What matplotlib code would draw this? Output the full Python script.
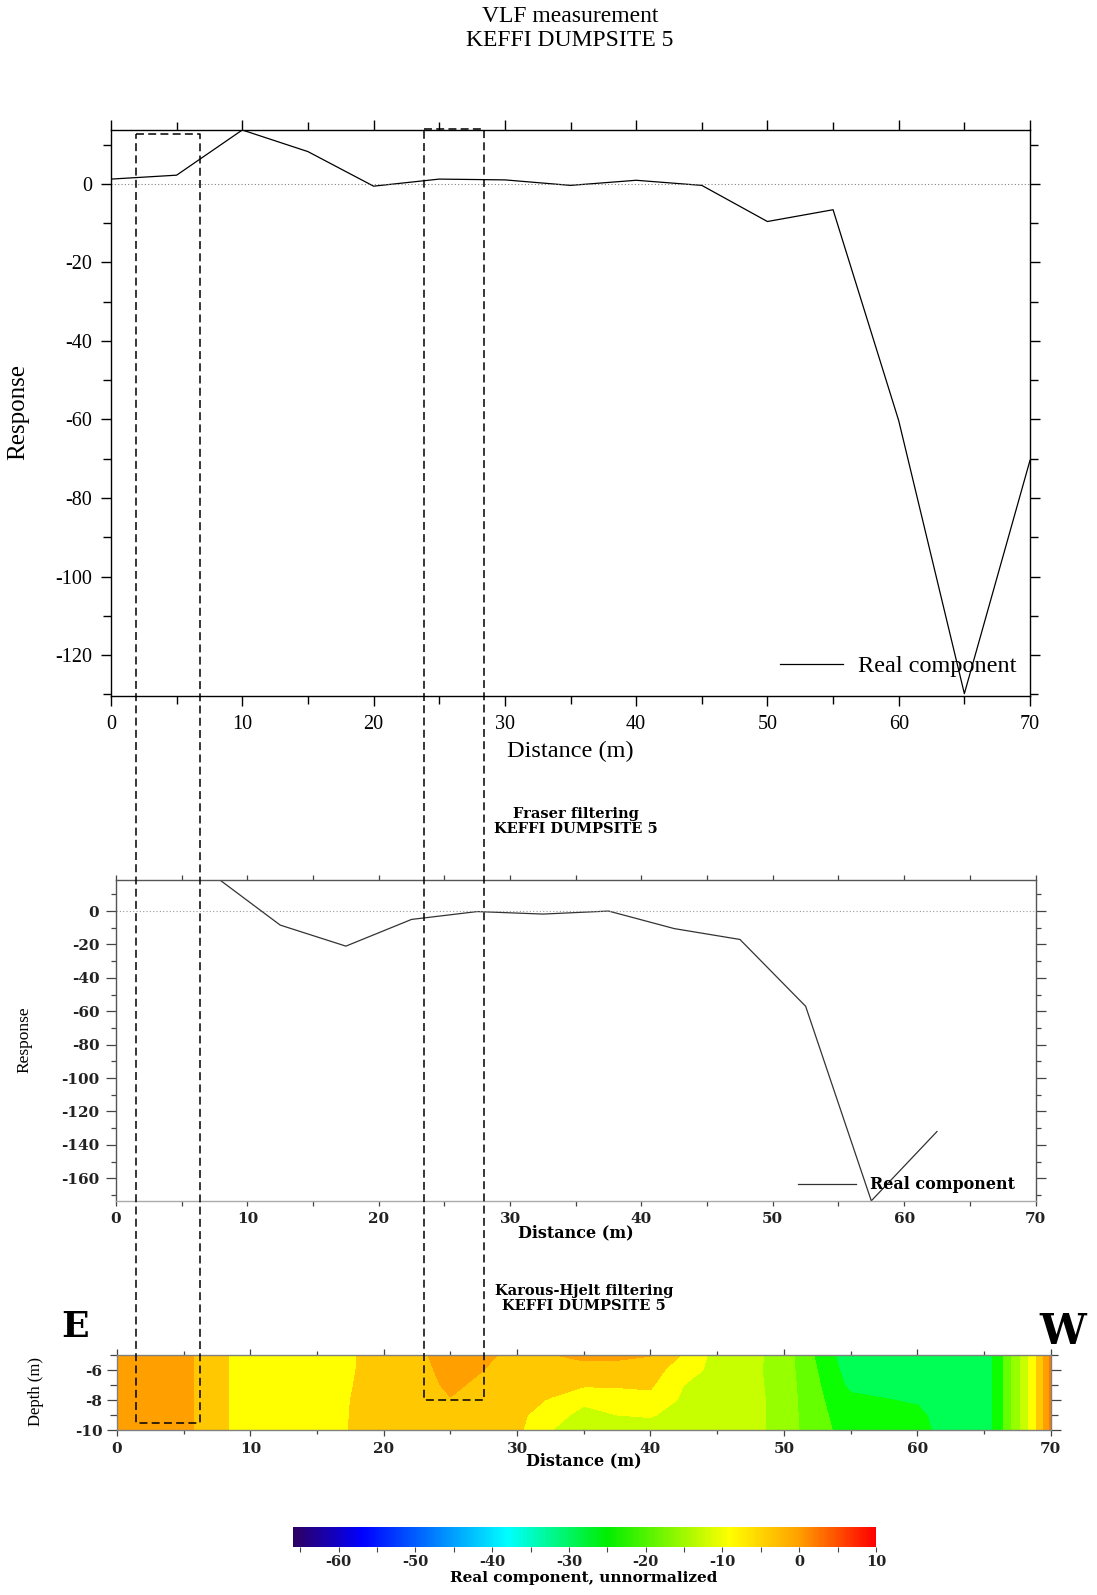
import numpy as np
import matplotlib
matplotlib.use("Agg")
import matplotlib.pyplot as plt
from matplotlib.colors import LinearSegmentedColormap, Normalize
from matplotlib.cm import ScalarMappable
from matplotlib.lines import Line2D
from matplotlib.ticker import MultipleLocator

# raw VLF real component
dist = [0, 5, 10, 15, 20, 25, 30, 35, 40, 45, 50, 55, 60, 65, 70]
real = [1.2, 2.2, 13.7, 8.2, -0.6, 1.2, 1.0, -0.4, 0.9, -0.4, -9.6, -6.6, -60.3, -129.8, -70.4]

# Fraser filtered
fraser_dist = [7.5, 12.5, 17.5, 22.5, 27.5, 32.5, 37.5, 42.5, 47.5, 52.5, 57.5, 62.5]
fraser = [21, -8.4, -21, -5, -0.3, -1.8, 0, -10.5, -17, -57, -173.5, -132]

# Karous-Hjelt pseudo section (rows = depth, columns = distance)
kh_dist = [0, 2.5, 5, 7.5, 10, 12.5, 15, 17.5, 20, 22.5, 25, 27.5, 30, 32.5, 35,
           37.5, 40, 42.5, 45, 47.5, 50, 52.5, 55, 57.5, 60, 62.5, 65, 67.5, 68.75, 70]
kh_depth = [-5, -6, -7, -8, -9, -10]
kh_real = [
    [-1.5, -1.5, -2, -5.5, -10, -10, -10, -7.5, -5, -4.0, -1.0, -1.7, -5.0, -3.2, -2.0,
     -2.0, -2.8, -7.5, -12.5, -13.0, -15.5, -20.5, -27.0, -28.0, -28.0, -27.5, -27, -15, -9, 2],
    [-1.5, -1.5, -2, -5.5, -10, -10, -10, -7.4, -5, -4.5, -1.5, -3.0, -5.0, -5.0, -4.5,
     -4.8, -5.5, -9.0, -12.5, -13.2, -15.5, -20.0, -26.0, -27.0, -27.0, -27.5, -27, -15, -9, 2],
    [-1.5, -1.5, -2, -5.5, -10, -10, -10, -7.2, -5, -4.8, -2.2, -4.0, -5.5, -6.0, -6.6,
     -6.6, -6.5, -11.0, -12.5, -13.0, -15.5, -19.5, -25.0, -25.5, -25.5, -27.5, -27, -15, -9, 2],
    [-1.5, -1.5, -2, -5.5, -10, -10, -10, -7.0, -5, -5.0, -3.2, -4.5, -6.0, -7.2, -10.0,
     -9.0, -8.0, -11.8, -12.5, -12.8, -15.5, -19.2, -23.0, -23.8, -24.5, -27.0, -27, -15, -9, 2],
    [-1.5, -1.5, -2, -5.5, -10, -10, -10, -6.9, -5, -5.0, -4.5, -5.0, -6.1, -9.0, -12.5,
     -11.0, -10.8, -12.0, -12.5, -12.8, -15.5, -19.0, -22.0, -22.5, -23.0, -26.5, -27, -15, -9, 2],
    [-1.5, -1.5, -2, -5.5, -10, -10, -10, -6.8, -5, -5.0, -5.0, -5.0, -6.2, -10.8, -14.2,
     -12.5, -12.0, -12.2, -12.5, -12.8, -15.5, -18.8, -21.5, -22.0, -22.5, -26.0, -27, -15, -9, 2],
]
kh_levels = [-30, -24, -20, -17, -14, -11, -7, -3, 1, 5]
kh_colors = ["#00ff55", "#0cff00", "#66ff00", "#96ff00", "#c8ff00",
             "#ffff00", "#ffc800", "#ffa000", "#ff7800"]

# colour scale of the section
cbar_vals = [-66, -57, -38, -25, -9, 0, 10]
cbar_cols = ["#2d0060", "#0000ff", "#00ffff", "#00ee00", "#ffff00", "#ffa000", "#ff0000"]
cbar_ticks = [-60, -50, -40, -30, -20, -10, 0, 10]

# dashed anomaly boxes: distance on top panel, top response, bottom depth
box_dist = [(1.9, 6.75), (23.85, 28.4)]
box_top = [12.6, 14.05]
box_depth = [-9.5, -8.0]

plt.rcParams['font.family'] = ['Liberation Serif', 'DejaVu Serif']
plt.rcParams['axes.unicode_minus'] = False
W, H = 1097, 1595
fig = plt.figure(figsize=(W / 100, H / 100), dpi=100)


def box(l, t, r, b):
    return [l / W, 1 - b / H, (r - l) / W, (b - t) / H]


def ftext(x, y, s, **kw):
    return fig.text(x / W, 1 - y / H, s, ha='center', va='center', **kw)


def bold_labels(ax, size=10.5):
    for lab in ax.get_xticklabels() + ax.get_yticklabels():
        lab.set_fontfamily('DejaVu Serif')
        lab.set_fontweight('bold')
        lab.set_fontsize(size)
        lab.set_color('#222222')


bold = dict(family=['DejaVu Serif'], weight='bold')

# ---- top panel: raw data
ax1 = fig.add_axes(box(111, 130, 1030, 696))
ax1.plot(dist, real, color='black', lw=0.9, label='Real component')
ax1.axhline(0, color='gray', ls=(0, (1, 2)), lw=0.8)
ax1.set_xlim(0, 70)
ax1.set_ylim(-130.4, 13.7)
ax1.xaxis.set_major_locator(MultipleLocator(10))
ax1.xaxis.set_minor_locator(MultipleLocator(5))
ax1.yaxis.set_major_locator(MultipleLocator(20))
ax1.yaxis.set_minor_locator(MultipleLocator(10))
ax1.tick_params(which='both', direction='out', top=True, right=True, width=1, labelsize=14.5)
ax1.tick_params(which='major', length=7)
ax1.tick_params(which='minor', length=5.5)
ax1.tick_params(axis='x', pad=7)
ax1.tick_params(axis='y', pad=6.5)
for s in ax1.spines.values():
    s.set_linewidth(1.0)
ax1.legend(loc='center right', bbox_to_anchor=(0.985, 0.053), frameon=False,
           fontsize=17.5, handlelength=2.6, handletextpad=0.6, borderpad=0, borderaxespad=0)
ftext(570, 17, "VLF measurement", fontsize=17)
ftext(570, 41, "KEFFI DUMPSITE 5", fontsize=17)
ftext(18, 412, "Response", fontsize=18, rotation=90)
ftext(570, 751, "Distance (m)", fontsize=17.5)

# ---- middle panel: Fraser filter
ax2 = fig.add_axes(box(116, 880, 1035.5, 1201))
ax2.plot(fraser_dist, fraser, color='#333333', lw=0.9, label='Real component')
ax2.axhline(0, color='#999999', ls=(0, (1, 2)), lw=0.8)
ax2.set_xlim(0, 70)
ax2.set_ylim(-173.6, 18.6)
ax2.xaxis.set_major_locator(MultipleLocator(10))
ax2.xaxis.set_minor_locator(MultipleLocator(5))
ax2.yaxis.set_major_locator(MultipleLocator(20))
ax2.yaxis.set_minor_locator(MultipleLocator(10))
ax2.tick_params(which='both', direction='out', top=True, right=True, width=0.9, colors='#444444')
ax2.tick_params(which='major', length=7)
ax2.tick_params(which='minor', length=3.8)
ax2.tick_params(axis='x', which='both', length=3.8, pad=4)
ax2.tick_params(axis='y', pad=5)
bold_labels(ax2, 11)
for k, s in ax2.spines.items():
    s.set_linewidth(1.0)
    s.set_color('#aaaaaa' if k == 'bottom' else '#555555')
ax2.legend(loc='center right', bbox_to_anchor=(0.978, 0.05), frameon=False,
           prop=dict(family='DejaVu Serif', weight='bold', size=11.5),
           handlelength=3.6, handletextpad=0.9, borderpad=0, borderaxespad=0)
ftext(576, 814, "Fraser filtering", fontsize=10.5, **bold)
ftext(576, 829, "KEFFI DUMPSITE 5", fontsize=10.5, **bold)
ftext(24, 1040, "Response", fontsize=12.5, rotation=90)
ftext(576, 1233, "Distance (m)", fontsize=11.5, **bold)

# ---- bottom panel: Karous-Hjelt section
ax3 = fig.add_axes(box(117, 1355, 1050.6, 1430))
ax3.contourf(kh_dist, kh_depth, kh_real, levels=kh_levels, colors=kh_colors)
ax3.set_xlim(0, 70)
ax3.set_ylim(-10, -5)
ax3.xaxis.set_major_locator(MultipleLocator(10))
ax3.xaxis.set_minor_locator(MultipleLocator(5))
ax3.yaxis.set_major_locator(MultipleLocator(2))
ax3.yaxis.set_minor_locator(MultipleLocator(1))
ax3.tick_params(which='both', direction='out', top=True, right=True, width=0.9, colors='#444444')
ax3.tick_params(axis='x', which='major', length=4.3, pad=4)
ax3.tick_params(axis='x', which='minor', length=3.2)
ax3.tick_params(axis='y', which='major', length=7, pad=3.6)
ax3.tick_params(axis='y', which='minor', length=5)
bold_labels(ax3, 11)
for s in ax3.spines.values():
    s.set_linewidth(1.0)
    s.set_color('#808080')
ftext(584, 1291, "Karous-Hjelt filtering", fontsize=10.5, **bold)
ftext(584, 1306, "KEFFI DUMPSITE 5", fontsize=10.5, **bold)
ftext(36, 1392, "Depth (m)", fontsize=12, rotation=90)
ftext(584, 1461, "Distance (m)", fontsize=11.5, **bold)
ftext(75, 1327, "E", fontsize=26, **bold)
ftext(1063, 1332, "W", fontsize=30, **bold)

# ---- colour bar
cmap = LinearSegmentedColormap.from_list(
    "vlf", [((v - cbar_vals[0]) / (cbar_vals[-1] - cbar_vals[0]), c) for v, c in zip(cbar_vals, cbar_cols)])
cax = fig.add_axes(box(292.5, 1527, 876, 1547))
cb = fig.colorbar(ScalarMappable(norm=Normalize(cbar_vals[0], cbar_vals[-1]), cmap=cmap),
                  cax=cax, orientation='horizontal', ticks=cbar_ticks)
cb.outline.set_visible(False)
cax.xaxis.set_minor_locator(MultipleLocator(5))
cax.tick_params(which='both', direction='out', length=3.6, width=0.8, colors='#444444', pad=2.5)
cax.set_xticklabels([str(t) for t in cbar_ticks])
bold_labels(cax, 10.5)
ftext(584, 1578, "Real component, unnormalized", fontsize=11, **bold)

# ---- dashed boxes linking the panels
to_fig = fig.transFigure.inverted()
for (x0, x1), top, dep in zip(box_dist, box_top, box_depth):
    p0, p1 = ax1.transData.transform([(x0, top), (x1, top)])
    yb = ax3.transData.transform([(0, dep)])[0][1]
    pts = to_fig.transform([(p0[0], p0[1]), (p1[0], p1[1]), (p1[0], yb), (p0[0], yb), (p0[0], p0[1])])
    fig.add_artist(Line2D(pts[:, 0], pts[:, 1], transform=fig.transFigure, color='black',
                          lw=1.1, ls=(0, (5.2, 2.8))))

fig.savefig("out.png", dpi=100)
